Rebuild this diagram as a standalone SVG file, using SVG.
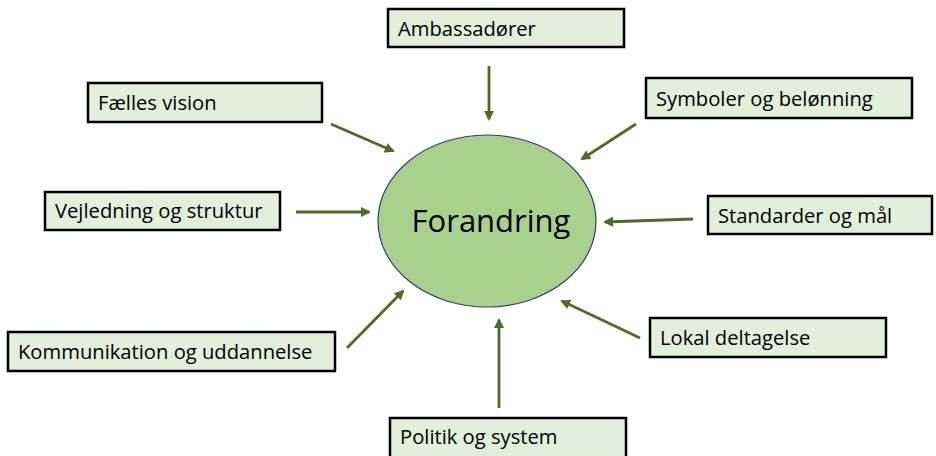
<svg xmlns="http://www.w3.org/2000/svg" width="936" height="456" viewBox="0 0 936 456">
<style>
.box{fill:#e2efda;stroke:#000;stroke-width:2.5}
.lbl{font-family:"Open Sans","Liberation Sans",Arial,sans-serif;font-size:20.2px;fill:#000}
.arr{stroke:#4e6b2a;stroke-width:2.8;fill:none;marker-end:url(#ah)}
</style>
<defs>
<marker id="ah" viewBox="0 0 10 10" refX="8" refY="5" markerWidth="3.6" markerHeight="3.6" orient="auto" markerUnits="strokeWidth">
<path d="M0,0 L10,5 L0,10 z" fill="#4e6b2a"/>
</marker>
</defs>
<g id="center">
<ellipse cx="487" cy="221" rx="109" ry="86" fill="#a9d18e" stroke="#2f3f6f" stroke-width="1.2"/>
<text x="491" y="232" text-anchor="middle" font-family="Open Sans,Liberation Sans,Arial,sans-serif" font-size="31" fill="#000">Forandring</text>
</g>
<g id="n-ambassadorer"><rect class="box" x="388" y="9" width="236" height="38"/><text class="lbl" x="398" y="36">Ambassadører</text></g>
<g id="n-symboler"><rect class="box" x="646" y="78" width="266" height="40"/><text class="lbl" x="656" y="106">Symboler og belønning</text></g>
<g id="n-faelles"><rect class="box" x="88" y="83" width="234" height="39"/><text class="lbl" x="98" y="110">Fælles vision</text></g>
<g id="n-vejledning"><rect class="box" x="45" y="192" width="235" height="38"/><text class="lbl" x="55" y="218">Vejledning og struktur</text></g>
<g id="n-standarder"><rect class="box" x="708" y="196" width="224" height="38"/><text class="lbl" x="718" y="223">Standarder og mål</text></g>
<g id="n-lokal"><rect class="box" x="650" y="318" width="236" height="39"/><text class="lbl" x="660" y="345">Lokal deltagelse</text></g>
<g id="n-kommunikation"><rect class="box" x="8" y="332" width="327" height="39"/><text class="lbl" x="18" y="359">Kommunikation og uddannelse</text></g>
<g id="n-politik"><rect class="box" x="390" y="418" width="236" height="40"/><text class="lbl" x="400" y="444">Politik og system</text></g>
<g id="connectors">
<line class="arr" x1="489" y1="66" x2="489" y2="119"/>
<line class="arr" x1="636" y1="124" x2="582" y2="159"/>
<line class="arr" x1="331" y1="124" x2="393" y2="151"/>
<line class="arr" x1="296" y1="212" x2="369" y2="212"/>
<line class="arr" x1="693" y1="219" x2="605" y2="222"/>
<line class="arr" x1="640" y1="338" x2="562" y2="301"/>
<line class="arr" x1="347" y1="348" x2="403" y2="291"/>
<line class="arr" x1="499" y1="408" x2="499" y2="320"/>
</g>
</svg>
